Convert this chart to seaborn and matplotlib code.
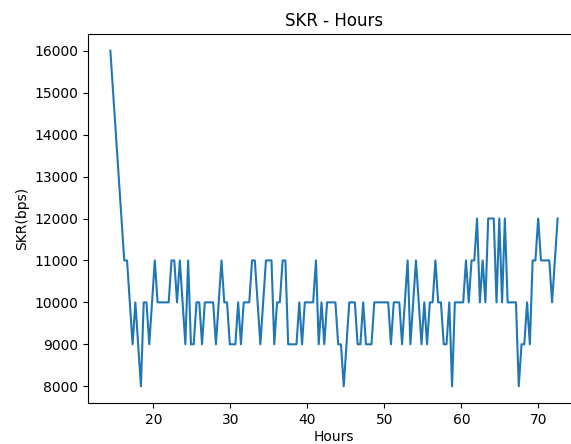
import numpy as np
import pandas as pd
import matplotlib
matplotlib.use("Agg")
import matplotlib.pyplot as plt
import seaborn as sns

# Secret key rate samples (bps), one reading per sampling interval
skr_bps = [
    16000, 15000, 14000, 13000, 12000, 11000, 11000, 10000, 9000, 10000,
    9000, 8000, 10000, 10000, 9000, 10000, 11000, 10000, 10000, 10000,
    10000, 10000, 11000, 11000, 10000, 11000, 10000, 9000, 11000, 9000,
    9000, 10000, 10000, 9000, 10000, 10000, 10000, 10000, 9000, 10000,
    11000, 10000, 10000, 9000, 9000, 9000, 10000, 9000, 10000, 10000,
    10000, 11000, 11000, 10000, 9000, 10000, 11000, 11000, 11000, 9000,
    10000, 10000, 11000, 11000, 9000, 9000, 9000, 9000, 10000, 9000,
    10000, 10000, 10000, 10000, 11000, 9000, 10000, 9000, 10000, 10000,
    10000, 10000, 9000, 9000, 8000, 9000, 10000, 10000, 10000, 9000,
    9000, 10000, 9000, 9000, 9000, 10000, 10000, 10000, 10000, 10000,
    10000, 9000, 10000, 10000, 10000, 9000, 10000, 11000, 9000, 10000,
    11000, 10000, 9000, 10000, 9000, 10000, 10000, 11000, 10000, 10000,
    9000, 9000, 10000, 8000, 10000, 10000, 10000, 10000, 11000, 10000,
    11000, 11000, 12000, 10000, 11000, 10000, 12000, 12000, 12000, 10000,
    12000, 10000, 12000, 10000, 10000, 10000, 10000, 8000, 9000, 9000,
    10000, 9000, 11000, 11000, 12000, 11000, 11000, 11000, 11000, 10000,
    11000, 12000,
]

# Sampling grid in hours
start_hour = 14.43
interval_hours = 0.3607
hours = start_hour + interval_hours * np.arange(len(skr_bps))

df = pd.DataFrame({"Hours": hours, "SKR(bps)": skr_bps})

fig = plt.figure(figsize=(5.71, 4.44), dpi=100)
ax = fig.add_axes([0.15412, 0.09234, 0.86165, 0.83108])

sns.lineplot(data=df, x="Hours", y="SKR(bps)", ax=ax, color="#1f77b4",
             linewidth=1.5, estimator=None)

ax.set_title("SKR - Hours")
ax.set_xlabel("Hours", labelpad=2.0)
ax.set_ylabel("SKR(bps)")

fig.savefig("out.png", dpi=100)
